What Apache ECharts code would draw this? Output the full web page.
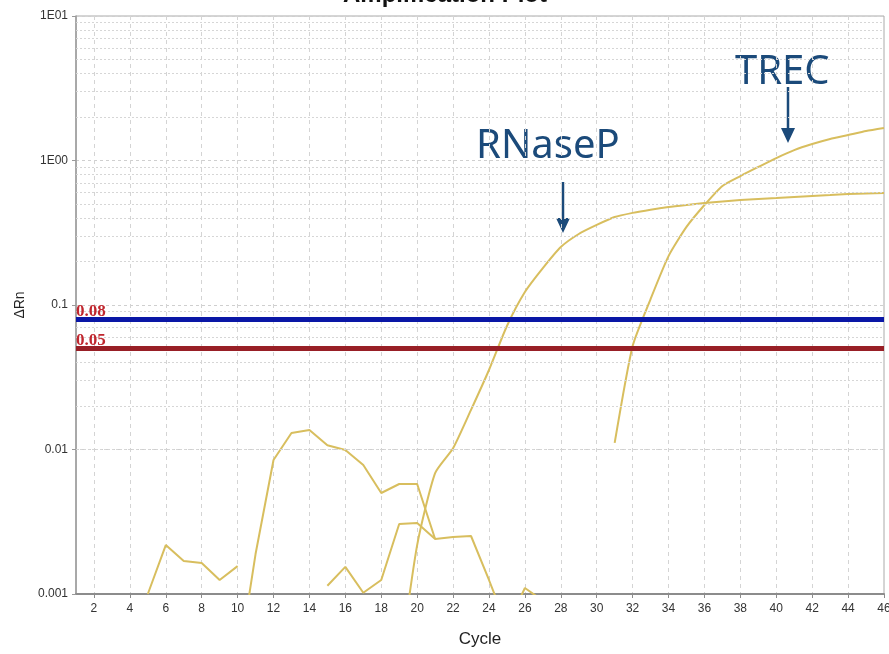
<!DOCTYPE html>
<html>
<head>
<meta charset="utf-8">
<title>Amplification Plot</title>
<script src="https://cdn.jsdelivr.net/npm/echarts@6/dist/echarts.min.js"></script>
<style>
    html, body { margin: 0; padding: 0; background: #fff; }
    #chart { width: 889px; height: 654px; }
</style>
</head>
<body>
<div id="chart"></div>
<script>
// Amplification plot: delta Rn per cycle, log scale

const cycles = Array.from({ length: 46 }, (_, i) => String(i + 1));

// curves: first cycle + values read per cycle
const rnasepStart = 19;
const rnasepValues = [0.0003, 0.00218, 0.00687, 0.0102, 0.0188, 0.0355, 0.0716, 0.123, 0.180, 0.252,
    0.310, 0.358, 0.406, 0.434, 0.457, 0.477, 0.493, 0.508, 0.521, 0.533,
    0.542, 0.550, 0.559, 0.568, 0.577, 0.586, 0.591, 0.596];

const trecStart = 31;
const trecValues = [0.0111, 0.052, 0.110, 0.218, 0.347, 0.492, 0.667, 0.78, 0.902, 1.04,
    1.18, 1.30, 1.41, 1.50, 1.60, 1.68];

const noiseAStart = 5;
const noiseAValues = [0.001, 0.00218, 0.00169, 0.00164, 0.00125, 0.00156];

const noiseBStart = 10;
const noiseBValues = [0.0003, 0.00189, 0.00846, 0.0130, 0.01365, 0.0107, 0.00993, 0.00781, 0.00500, 0.00577,
    0.00577, 0.00240, 0.00248, 0.00252, 0.00125, 0.0006];

const noiseCStart = 15;
const noiseCValues = [0.00114, 0.00154, 0.00102, 0.00125, 0.00305, 0.00310, 0.00240];

const noiseDStart = 25;
const noiseDValues = [0.0006, 0.0011, 0.0009];

// thresholds
const thresholdValues = [0.08, 0.05];
const thresholdLabels = ['0.08', '0.05'];
const thresholdColors = ['#0a17a6', '#981f26'];

// y tick labels from 0.001 up to 10
const yTickLabels = ['0.001', '0.01', '0.1', '1E00', '1E01'];

// minor log grid (2..9 x each decade)
const minorGrid = [];
for (let d = -3; d < 1; d++) {
    for (let m = 2; m <= 9; m++) {
        minorGrid.push(m * Math.pow(10, d));
    }
}

const curveColor = '#d8be5e';
const annotColor = '#1b4a7a';

function toData(start, values) {
    return values.map((v, i) => [String(start + i), v]);
}

function curve(start, values, smooth) {
    return {
        type: 'line',
        data: toData(start, values),
        smooth: smooth ? 0.2 : false,
        symbol: 'none',
        clip: true,
        z: 3,
        lineStyle: { color: curveColor, width: 2 }
    };
}

const evenCycle = (idx, val) => Number(val) % 2 === 0;

const chart = echarts.init(document.getElementById('chart'), null, { renderer: 'canvas' });

const option = {
    animation: false,
    backgroundColor: '#fff',
    grid: {
        left: 76,
        right: 5,
        top: 16,
        bottom: 60,
        outerBoundsMode: 'none',
        show: true,
        borderColor: '#aaaaaa',
        borderWidth: 1
    },
    xAxis: {
        type: 'category',
        data: cycles,
        boundaryGap: false,
        name: 'Cycle',
        nameLocation: 'middle',
        nameGap: 37,
        nameTextStyle: { fontFamily: 'Liberation Sans', fontSize: 17, color: '#222' },
        axisLine: { lineStyle: { color: '#8c8c8c', width: 2 } },
        axisTick: { interval: evenCycle, length: 4, lineStyle: { color: '#8c8c8c' } },
        axisLabel: {
            interval: evenCycle,
            margin: 9,
            fontFamily: 'Liberation Sans',
            fontSize: 12,
            color: '#333'
        },
        splitLine: {
            show: true,
            interval: evenCycle,
            lineStyle: { color: '#d4d4d4', type: [4, 4], width: 1 }
        }
    },
    yAxis: {
        type: 'log',
        logBase: 10,
        min: 0.001,
        max: 10,
        name: 'ΔRn',
        nameLocation: 'middle',
        nameGap: 43,
        nameRotate: 90,
        nameTextStyle: { fontFamily: 'Liberation Sans', fontSize: 14, color: '#222' },
        axisLine: { show: true, lineStyle: { color: '#9a9a9a', width: 1.5 } },
        axisTick: { show: true, length: 4, lineStyle: { color: '#9a9a9a' } },
        axisLabel: {
            margin: 8,
            fontFamily: 'Liberation Sans',
            fontSize: 12,
            color: '#333',
            formatter: v => yTickLabels[Math.round(Math.log10(v)) + 3]
        },
        splitLine: { show: true, lineStyle: { color: '#cfcfcf', type: [3, 3], width: 1 } }
    },
    series: [
        {
            // minor grid lines
            type: 'line',
            data: [],
            silent: true,
            z: 1,
            markLine: {
                silent: true,
                symbol: 'none',
                animation: false,
                label: { show: false },
                lineStyle: { color: '#d6d6d6', type: [2, 2], width: 1 },
                data: minorGrid.map(v => ({ yAxis: v }))
            }
        },
        {
            // thresholds
            type: 'line',
            data: [],
            silent: true,
            z: 2,
            markLine: {
                silent: true,
                symbol: 'none',
                animation: false,
                data: thresholdValues.map((v, i) => ({
                    yAxis: v,
                    lineStyle: { color: thresholdColors[i], width: 5, type: 'solid' },
                    label: {
                        show: true,
                        position: 'insideStartTop',
                        formatter: thresholdLabels[i],
                        distance: [0, -1],
                        fontFamily: 'Liberation Serif',
                        fontSize: 17,
                        fontWeight: 'bold',
                        color: '#c0262e'
                    }
                }))
            }
        },
        curve(noiseAStart, noiseAValues, false),
        curve(noiseBStart, noiseBValues, false),
        curve(noiseCStart, noiseCValues, false),
        curve(noiseDStart, noiseDValues, false),
        curve(rnasepStart, rnasepValues, true),
        curve(trecStart, trecValues, true)
    ],
    graphic: [
        {
            type: 'text',
            x: 445,
            y: 7,
            style: {
                text: 'Amplification Plot',
                font: 'bold 24px "Liberation Sans"',
                fill: '#111',
                textAlign: 'center',
                textVerticalAlign: 'bottom'
            }
        },
        {
            type: 'text',
            x: 735,
            y: 73,
            style: {
                text: 'TREC',
                font: '40px "Noto Sans"',
                fill: annotColor,
                textAlign: 'left',
                textVerticalAlign: 'middle'
            }
        },
        {
            type: 'text',
            x: 476,
            y: 147,
            style: {
                text: 'RNaseP',
                font: '40px "Noto Sans"',
                fill: annotColor,
                textAlign: 'left',
                textVerticalAlign: 'middle'
            }
        },
        {
            type: 'line',
            shape: { x1: 788, y1: 87, x2: 788, y2: 132 },
            style: { stroke: annotColor, lineWidth: 2.5 }
        },
        {
            type: 'polygon',
            shape: { points: [[781, 128], [795, 128], [788, 143]] },
            style: { fill: annotColor }
        },
        {
            type: 'line',
            shape: { x1: 563, y1: 182, x2: 563, y2: 222 },
            style: { stroke: annotColor, lineWidth: 2.5 }
        },
        {
            type: 'polygon',
            shape: { points: [[556, 218], [570, 218], [563, 233]] },
            style: { fill: annotColor }
        }
    ]
};

chart.setOption(option);
</script>
</body>
</html>
